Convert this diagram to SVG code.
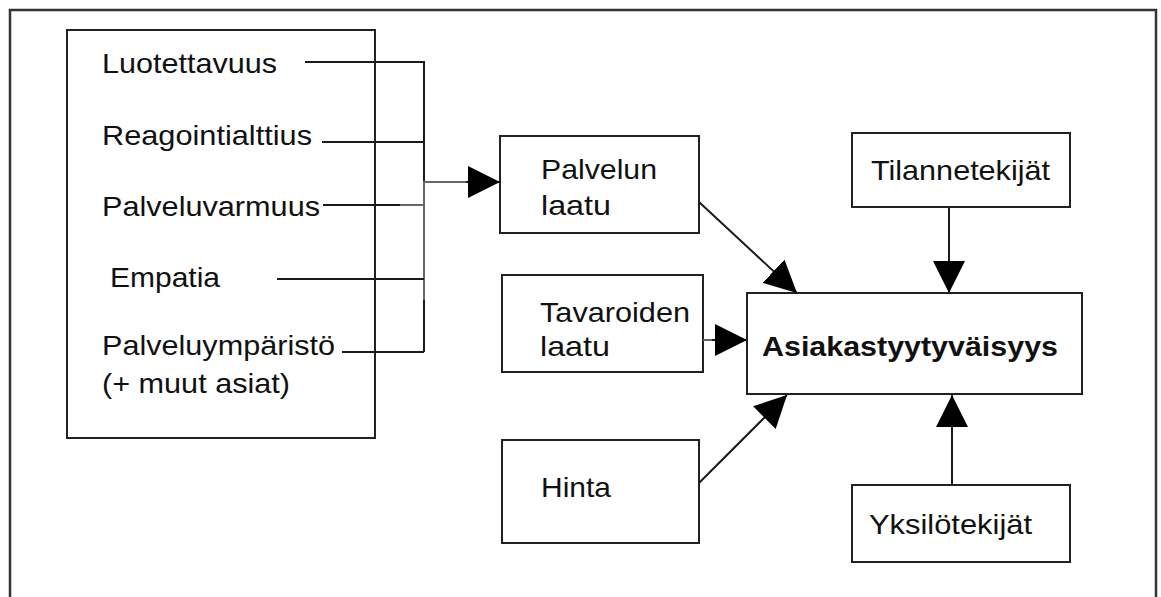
<svg xmlns="http://www.w3.org/2000/svg" width="1161" height="597" viewBox="0 0 1161 597">
  <defs>
    <style>
      .box { fill: #fff; stroke: #222; stroke-width: 2; }
      .frame { fill: none; stroke: #333; stroke-width: 2.5; }
      .lbl { font-family: "Liberation Sans", Arial, sans-serif; font-size: 28px; fill: #111; }
      .bold { font-weight: bold; }
      .wire { fill: none; stroke: #1a1a1a; stroke-width: 2; }
      .wire-light { fill: none; stroke: #666; stroke-width: 2; }
      .arrow { fill: none; stroke: #1a1a1a; stroke-width: 2; marker-end: url(#head); }
    </style>
    <marker id="head" viewBox="0 0 32 32" refX="32" refY="16" markerWidth="32" markerHeight="32" markerUnits="userSpaceOnUse" orient="auto">
      <path d="M0,0 L32,16 L0,32 Z" fill="#000"/>
    </marker>
  </defs>

  <rect width="1161" height="597" fill="#fff"/>

  <!-- outer frame (open at the bottom edge) -->
  <path class="frame" d="M10,600 V10 H1156 V600"/>

  <!-- service quality dimensions -->
  <g id="dimensions">
    <rect class="box" x="67" y="30" width="308" height="408"/>
    <text class="lbl" x="102" y="73" textLength="175" lengthAdjust="spacingAndGlyphs">Luotettavuus</text>
    <text class="lbl" x="102" y="145" textLength="210" lengthAdjust="spacingAndGlyphs">Reagointialttius</text>
    <text class="lbl" x="102" y="216" textLength="218" lengthAdjust="spacingAndGlyphs">Palveluvarmuus</text>
    <text class="lbl" x="110" y="287" textLength="110" lengthAdjust="spacingAndGlyphs">Empatia</text>
    <text class="lbl" x="102" y="355" textLength="233" lengthAdjust="spacingAndGlyphs">Palveluympäristö</text>
    <text class="lbl" x="102" y="393" textLength="188" lengthAdjust="spacingAndGlyphs">(+ muut asiat)</text>
  </g>

  <g id="palvelun-laatu">
    <rect class="box" x="500" y="136" width="199" height="97"/>
    <text class="lbl" x="541" y="179" textLength="116" lengthAdjust="spacingAndGlyphs">Palvelun</text>
    <text class="lbl" x="541" y="215" textLength="70" lengthAdjust="spacingAndGlyphs">laatu</text>
  </g>

  <g id="tavaroiden-laatu">
    <rect class="box" x="502" y="275" width="201" height="97"/>
    <text class="lbl" x="540" y="322" textLength="150" lengthAdjust="spacingAndGlyphs">Tavaroiden</text>
    <text class="lbl" x="540" y="356" textLength="70" lengthAdjust="spacingAndGlyphs">laatu</text>
  </g>

  <g id="hinta">
    <rect class="box" x="502" y="440" width="197" height="103"/>
    <text class="lbl" x="541" y="497" textLength="70" lengthAdjust="spacingAndGlyphs">Hinta</text>
  </g>

  <g id="asiakastyytyvaisyys">
    <rect class="box" x="747" y="293" width="335" height="101"/>
    <text class="lbl bold" x="762" y="356" textLength="296" lengthAdjust="spacingAndGlyphs">Asiakastyytyväisyys</text>
  </g>

  <g id="tilannetekijat">
    <rect class="box" x="852" y="133" width="218" height="74"/>
    <text class="lbl" x="871" y="180" textLength="179" lengthAdjust="spacingAndGlyphs">Tilannetekijät</text>
  </g>

  <g id="yksilotekijat">
    <rect class="box" x="852" y="485" width="218" height="77"/>
    <text class="lbl" x="869" y="534" textLength="163" lengthAdjust="spacingAndGlyphs">Yksilötekijät</text>
  </g>

  <g id="connectors">
    <!-- dimension leaders into the collecting bar -->
    <path class="wire" d="M305,62 H424 V181"/>
    <path class="wire" d="M322,142 H424"/>
    <path class="wire" d="M323,205 H400"/>
    <path class="wire-light" d="M400,205 H424"/>
    <path class="wire-light" d="M424,181 V300"/>
    <path class="wire" d="M424,300 V352"/>
    <path class="wire" d="M277,279 H424"/>
    <path class="wire" d="M342,352 H424"/>
    <!-- bar to service quality -->
    <path class="wire-light" d="M424,182 H470"/>
    <path class="arrow" d="M466,182 H500"/>
    <!-- factors into customer satisfaction -->
    <path class="arrow" d="M699,202 L797,293"/>
    <path class="wire-light" d="M703,340 H716"/>
    <path class="arrow" d="M712,340 H747"/>
    <path class="arrow" d="M699,483 L787,395"/>
    <path class="arrow" d="M949,207 V293"/>
    <path class="arrow" d="M952,485 V395"/>
  </g>
</svg>
